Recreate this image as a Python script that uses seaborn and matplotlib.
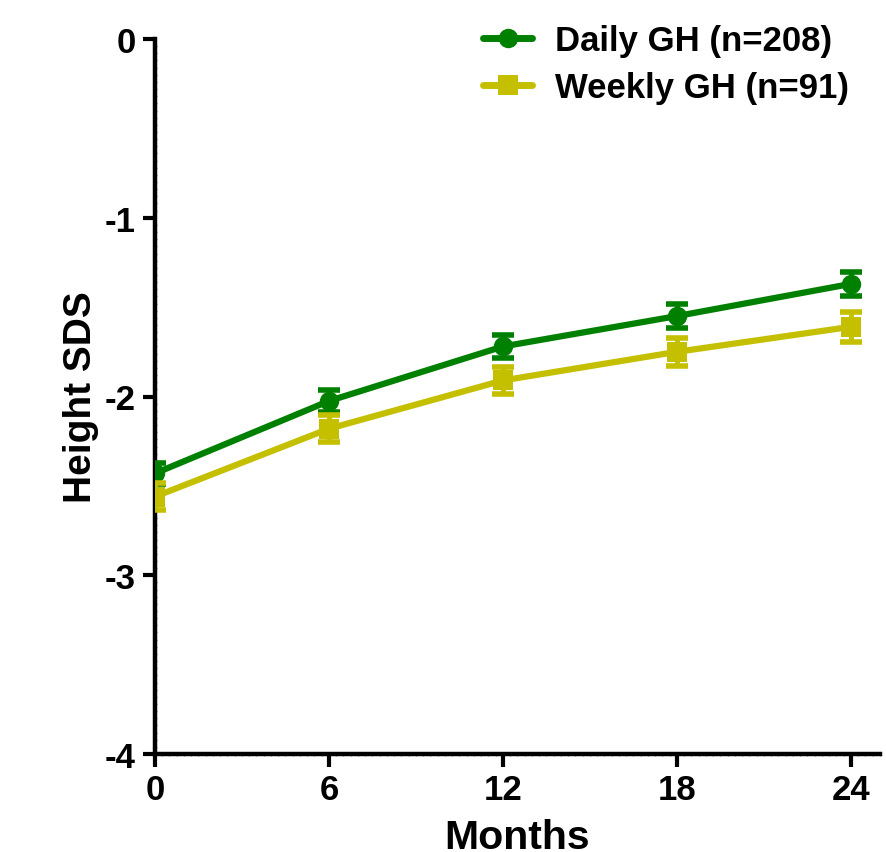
import matplotlib
matplotlib.use("Agg")
import matplotlib.pyplot as plt
from matplotlib.ticker import MultipleLocator
import seaborn as sns
import pandas as pd

months = [0, 6, 12, 18, 24]
daily_mean = [-2.43, -2.025, -1.72, -1.55, -1.37]
daily_se = [0.06, 0.06, 0.065, 0.065, 0.065]
weekly_mean = [-2.56, -2.18, -1.91, -1.75, -1.61]
weekly_se = [0.075, 0.075, 0.075, 0.08, 0.085]
labels = ["Daily GH (n=208)", "Weekly GH (n=91)"]
colors = ["#008000", "#c4c000"]

sns.set_style("ticks")
plt.rcParams['font.family'] = ['Liberation Sans', 'DejaVu Sans']
plt.rcParams['font.weight'] = 'bold'
for k in ["text.color", "axes.labelcolor", "xtick.color", "ytick.color", "axes.edgecolor"]:
    plt.rcParams[k] = "black"

df = pd.DataFrame({
    "Months": months * 2,
    "SDS": daily_mean + weekly_mean,
    "SE": daily_se + weekly_se,
    "Group": [labels[0]] * 5 + [labels[1]] * 5,
})

fig = plt.figure(figsize=(8.87, 8.53), dpi=100)
ax = fig.add_axes([155 / 887, 1 - 755 / 853, 725 / 887, 715 / 853])

sns.lineplot(data=df, x="Months", y="SDS", hue="Group", style="Group",
             palette=colors, markers=["o", "s"], dashes=False,
             linewidth=4.5, markersize=14, markeredgewidth=0, ax=ax,
             errorbar=None)

for g, c in zip(labels, colors):
    sub = df[df["Group"] == g]
    ax.errorbar(sub["Months"], sub["SDS"], yerr=sub["SE"], fmt="none",
                ecolor=c, elinewidth=3.5, capsize=8, capthick=4, zorder=3)

ax.set_xlim(0, 25)
ax.set_ylim(-4, 0)
ax.set_xticks(months)
ax.set_yticks([0, -1, -2, -3, -4])
ax.set_yticklabels(["0", "-1", "-2", "-3", "-4"])
ax.xaxis.set_minor_locator(MultipleLocator(0.25))
ax.yaxis.set_minor_locator(MultipleLocator(0.04))

for s in ["top", "right"]:
    ax.spines[s].set_visible(False)
for s in ["left", "bottom"]:
    ax.spines[s].set_linewidth(3.2)
    ax.spines[s].set_color("black")

ax.tick_params(axis="both", which="major", direction="out", length=9, width=3,
               labelsize=25, pad=5, colors="black")
ax.tick_params(axis="both", which="minor", direction="inout", length=3.5,
               width=1, color="#888888")
for t in ax.get_xticklabels() + ax.get_yticklabels():
    t.set_fontweight("bold")

ax.set_xlabel("Months", fontsize=29.5, fontweight="bold", labelpad=8)
ax.set_ylabel("Height SDS", fontsize=28, fontweight="bold", labelpad=4)

leg = ax.legend(loc="upper right", bbox_to_anchor=(1.0, 1.065), frameon=False,
                handlelength=1.4, handletextpad=0.66,
                labelspacing=0.4, prop={"size": 25, "weight": "bold"})
for h in leg.legend_handles:
    h.set_linewidth(5)
    h.set_markersize(14)

fig.savefig("out.png", dpi=100)
